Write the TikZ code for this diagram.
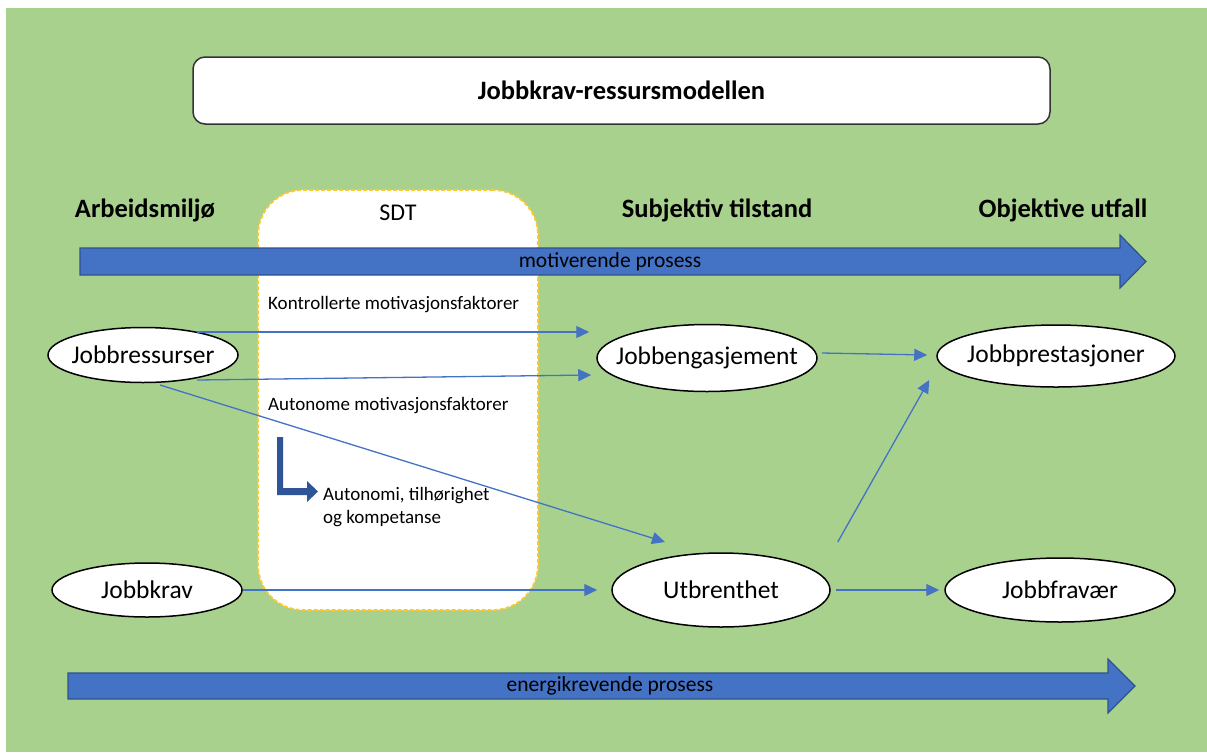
\documentclass[tikz,border=0pt]{standalone}
\usepackage{fontspec}
\setmainfont{Carlito}
\usetikzlibrary{shapes.geometric,arrows.meta,calc}
\definecolor{bggreen}{HTML}{A9D18E}
\definecolor{barblue}{HTML}{4472C4}
\definecolor{barline}{HTML}{2F528F}
\definecolor{bentblue}{HTML}{2F5597}
\definecolor{sdtyellow}{HTML}{FFC82E}
\newcommand{\fsz}[1]{\fontsize{#1}{#1}\selectfont}
\newcommand{\ovaltext}[1]{\makebox[0pt]{#1}}
\tikzset{
  oval/.style={ellipse, draw=black, line width=1.5pt, fill=white, inner sep=0pt,
    font=\fsz{25.5}},
  header/.style={font=\bfseries\fsz{26.5}, inner sep=0pt},
  sdttext/.style={font=\fsz{19}, inner sep=0pt, anchor=west},
  bartext/.style={font=\fsz{21.5}, inner sep=0pt},
  conn/.style={draw=barblue, line width=1.3pt,
    -{Triangle[length=13pt,width=12pt]}},
  bigbar/.style={fill=barblue, draw=barline, line width=1.2pt},
}
\begin{document}
\begin{tikzpicture}[x=1pt,y=-1pt]
\useasboundingbox (0,0) rectangle (1207,753);
% background panel
\fill[white] (0,0) rectangle (1207,753);
\fill[bggreen] (6,8) rectangle (1207,752);

% title box
\node[draw=black!80, line width=1.5pt, fill=white, rounded corners=12pt,
  minimum width=857pt, minimum height=67pt, font=\bfseries\fsz{26.5}]
  (title) at (621.5,90.5) {Jobbkrav-ressursmodellen};

% SDT panel
\node[draw=sdtyellow, line width=1.8pt, dash pattern=on 4pt off 2pt,
  fill=white, rounded corners=45pt, minimum width=280pt, minimum height=420pt]
  (sdt) at (398,400) {};
\node[font=\fsz{24}, inner sep=0pt] (sdtlabel) at (398,213) {SDT};

% column headers
\node[header] (h1) at (145,210) {Arbeidsmiljø};
\node[header] (h2) at (717,210) {Subjektiv tilstand};
\node[header] (h3) at (1063,210) {Objektive utfall};

% process arrows
\draw[bigbar] (80,248) -- (1120,248) -- (1120,235) -- (1146,261.5)
  -- (1120,288) -- (1120,275) -- (80,275) -- cycle;
\node[bartext] (motiv) at (610,261.5) {motiverende prosess};
\draw[bigbar] (68,673) -- (1108,673) -- (1108,659) -- (1135,686)
  -- (1108,713) -- (1108,699) -- (68,699) -- cycle;
\node[bartext] (energi) at (610,686) {energikrevende prosess};

% SDT texts
\node[sdttext] (kontr) at (268,305) {Kontrollerte motivasjonsfaktorer};
\node[sdttext] (auto) at (268,406) {Autonome motivasjonsfaktorer};
\node[font=\fsz{19}, inner sep=0pt, anchor=base west]
  (behova) at (323,500) {Autonomi, tilhørighet};
\node[font=\fsz{19}, inner sep=0pt, anchor=base west]
  (behovb) at (323,523) {og kompetanse};

% bent arrow
\fill[bentblue] (277,437) -- (283,437) -- (283,488) -- (307,488) -- (307,481)
  -- (318,491.5) -- (307,502) -- (307,495) -- (277,495) -- cycle;

% model nodes
\node[oval, minimum width=190pt, minimum height=55pt] (jr) at (143,355) {\ovaltext{Jobbressurser}};
\node[oval, minimum width=220pt, minimum height=67pt] (je) at (707,358) {\ovaltext{Jobbengasjement}};
\node[oval, minimum width=238pt, minimum height=62pt] (jp) at (1056,356) {\ovaltext{Jobbprestasjoner}};
\node[oval, minimum width=190pt, minimum height=54pt] (jk) at (147,590) {\ovaltext{Jobbkrav}};
\node[oval, minimum width=218pt, minimum height=74pt] (ut) at (721,590) {\ovaltext{Utbrenthet}};
\node[oval, minimum width=230pt, minimum height=64pt] (jf) at (1060,590) {\ovaltext{Jobbfravær}};

% connectors
\draw[conn] ([shift={(54,-23)}]jr.center) -- ([shift={(-7,-26)}]je.west);
\draw[conn] ([shift={(54,25)}]jr.center) -- ([shift={(-5,17)}]je.west);
\draw[conn] ([shift={(17,30)}]jr.center) -- ([shift={(-56,-48)}]ut.center);
\draw[conn, shorten >=14pt] (jk.east) -- (ut.west);
\draw[conn] ([shift={(4,-5)}]je.east) -- ([shift={(-9,-1)}]jp.west);
\draw[conn] ([shift={(7,-48)}]ut.east) -- ([shift={(-7,24)}]jp.west);
\draw[conn] ([xshift=5pt]ut.east) -- ([xshift=-5pt]jf.west);
\end{tikzpicture}
\end{document}
